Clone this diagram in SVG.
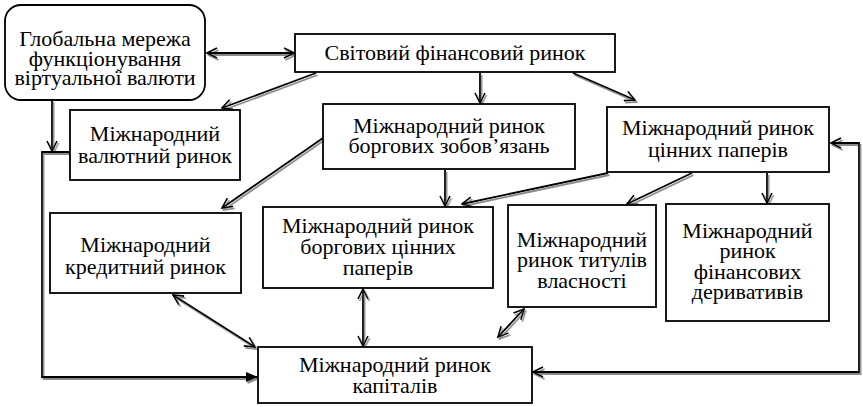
<svg xmlns="http://www.w3.org/2000/svg" width="863" height="407" viewBox="0 0 863 407">
<rect width="863" height="407" fill="#fff"/>
<defs>
<marker id="a" viewBox="0 0 12 12" refX="11" refY="6" markerWidth="12" markerHeight="12" markerUnits="userSpaceOnUse" orient="auto-start-reverse">
<path d="M1,1 L11,6 L1,11" fill="none" stroke="#000" stroke-width="1.6"/>
</marker>
<marker id="f" viewBox="0 0 12 12" refX="11" refY="6" markerWidth="12" markerHeight="12" markerUnits="userSpaceOnUse" orient="auto">
<path d="M0,1 L12,6 L0,11 Z" fill="#000"/>
</marker>
<filter id="sh" x="-10%" y="-10%" width="120%" height="120%">
<feDropShadow dx="1.5" dy="2" stdDeviation="0.4" flood-color="#8a8a8a"/>
</filter>
</defs>

<g id="connectors" filter="url(#sh)" fill="none" stroke="#000" stroke-width="1.8">
<line x1="207" y1="53" x2="294" y2="53" marker-start="url(#a)" marker-end="url(#a)"/>
<line x1="316" y1="73" x2="222" y2="108" marker-end="url(#a)"/>
<line x1="480" y1="73" x2="480" y2="103" marker-end="url(#a)"/>
<line x1="573" y1="73" x2="635" y2="100" marker-end="url(#a)"/>
<line x1="52" y1="100" x2="52" y2="151" marker-end="url(#a)"/>
<path d="M70,152 H42 V377 H257" marker-end="url(#f)"/>
<line x1="323" y1="138" x2="222" y2="208" marker-end="url(#a)"/>
<line x1="445" y1="170" x2="445" y2="206" marker-end="url(#a)"/>
<line x1="608" y1="173" x2="462" y2="204" marker-end="url(#a)"/>
<line x1="692" y1="173" x2="627" y2="204" marker-end="url(#a)"/>
<line x1="767" y1="173" x2="767" y2="203" marker-end="url(#a)"/>
<line x1="173" y1="295" x2="255" y2="347" marker-start="url(#a)" marker-end="url(#a)"/>
<line x1="363" y1="289" x2="363" y2="346" marker-start="url(#a)" marker-end="url(#a)"/>
<line x1="524" y1="309" x2="498" y2="337" marker-start="url(#a)" marker-end="url(#a)"/>
<path d="M831,143 H859 V372 H533" marker-start="url(#a)" marker-end="url(#a)"/>
</g>

<g id="nodes" font-size="22px">
<g id="n1"><rect x="5" y="5" width="200" height="95" rx="16" fill="#fff" stroke="#000" stroke-width="1.8"/>
<text font-family="'Liberation Serif'" text-anchor="middle" x="105" y="46">Глобальна мережа</text>
<text font-family="'Liberation Serif'" text-anchor="middle" x="105" y="65.5">функціонування</text>
<text font-family="'Liberation Serif'" text-anchor="middle" x="105" y="85">віртуальної валюти</text></g>

<g id="n2"><rect x="295" y="34" width="320" height="38" fill="#fff" stroke="#000" stroke-width="1.8"/>
<text font-family="'Liberation Serif'" text-anchor="middle" x="455" y="60">Світовий фінансовий ринок</text></g>

<g id="n3"><rect x="70" y="110" width="170" height="70" fill="#fff" stroke="#000" stroke-width="1.8"/>
<text font-family="'Liberation Serif'" text-anchor="middle" x="155" y="141">Міжнародний</text>
<text font-family="'Liberation Serif'" text-anchor="middle" x="155" y="163">валютний ринок</text></g>

<g id="n4"><rect x="323" y="104" width="252" height="65" fill="#fff" stroke="#000" stroke-width="1.8"/>
<text font-family="'Liberation Serif'" text-anchor="middle" x="449" y="133">Міжнародний ринок</text>
<text font-family="'Liberation Serif'" text-anchor="middle" x="449" y="153">боргових зобов’язань</text></g>

<g id="n5"><rect x="607" y="107" width="222" height="65" fill="#fff" stroke="#000" stroke-width="1.8"/>
<text font-family="'Liberation Serif'" text-anchor="middle" x="718" y="135">Міжнародний ринок</text>
<text font-family="'Liberation Serif'" text-anchor="middle" x="718" y="157">цінних паперів</text></g>

<g id="n6"><rect x="50" y="213" width="191" height="80" fill="#fff" stroke="#000" stroke-width="1.8"/>
<text font-family="'Liberation Serif'" text-anchor="middle" x="145.5" y="252">Міжнародний</text>
<text font-family="'Liberation Serif'" text-anchor="middle" x="145.5" y="274">кредитний ринок</text></g>

<g id="n7"><rect x="263" y="207" width="230" height="81" fill="#fff" stroke="#000" stroke-width="1.8"/>
<text font-family="'Liberation Serif'" text-anchor="middle" x="378" y="233">Міжнародний ринок</text>
<text font-family="'Liberation Serif'" text-anchor="middle" x="378" y="254">боргових цінних</text>
<text font-family="'Liberation Serif'" text-anchor="middle" x="378" y="275">паперів</text></g>

<g id="n8"><rect x="508" y="205" width="148" height="102" fill="#fff" stroke="#000" stroke-width="1.8"/>
<text font-family="'Liberation Serif'" text-anchor="middle" x="582" y="247">Міжнародний</text>
<text font-family="'Liberation Serif'" text-anchor="middle" x="582" y="267">ринок титулів</text>
<text font-family="'Liberation Serif'" text-anchor="middle" x="582" y="288">власності</text></g>

<g id="n9"><rect x="666" y="204" width="163" height="117" fill="#fff" stroke="#000" stroke-width="1.8"/>
<text font-family="'Liberation Serif'" text-anchor="middle" x="747.5" y="238">Міжнародний</text>
<text font-family="'Liberation Serif'" text-anchor="middle" x="747.5" y="258">ринок</text>
<text font-family="'Liberation Serif'" text-anchor="middle" x="747.5" y="279">фінансових</text>
<text font-family="'Liberation Serif'" text-anchor="middle" x="747.5" y="299">деривативів</text></g>

<g id="n10"><rect x="258" y="347" width="274" height="56" fill="#fff" stroke="#000" stroke-width="1.8"/>
<text font-family="'Liberation Serif'" text-anchor="middle" x="395" y="372">Міжнародний ринок</text>
<text font-family="'Liberation Serif'" text-anchor="middle" x="395" y="393">капіталів</text></g>
</g>
</svg>
